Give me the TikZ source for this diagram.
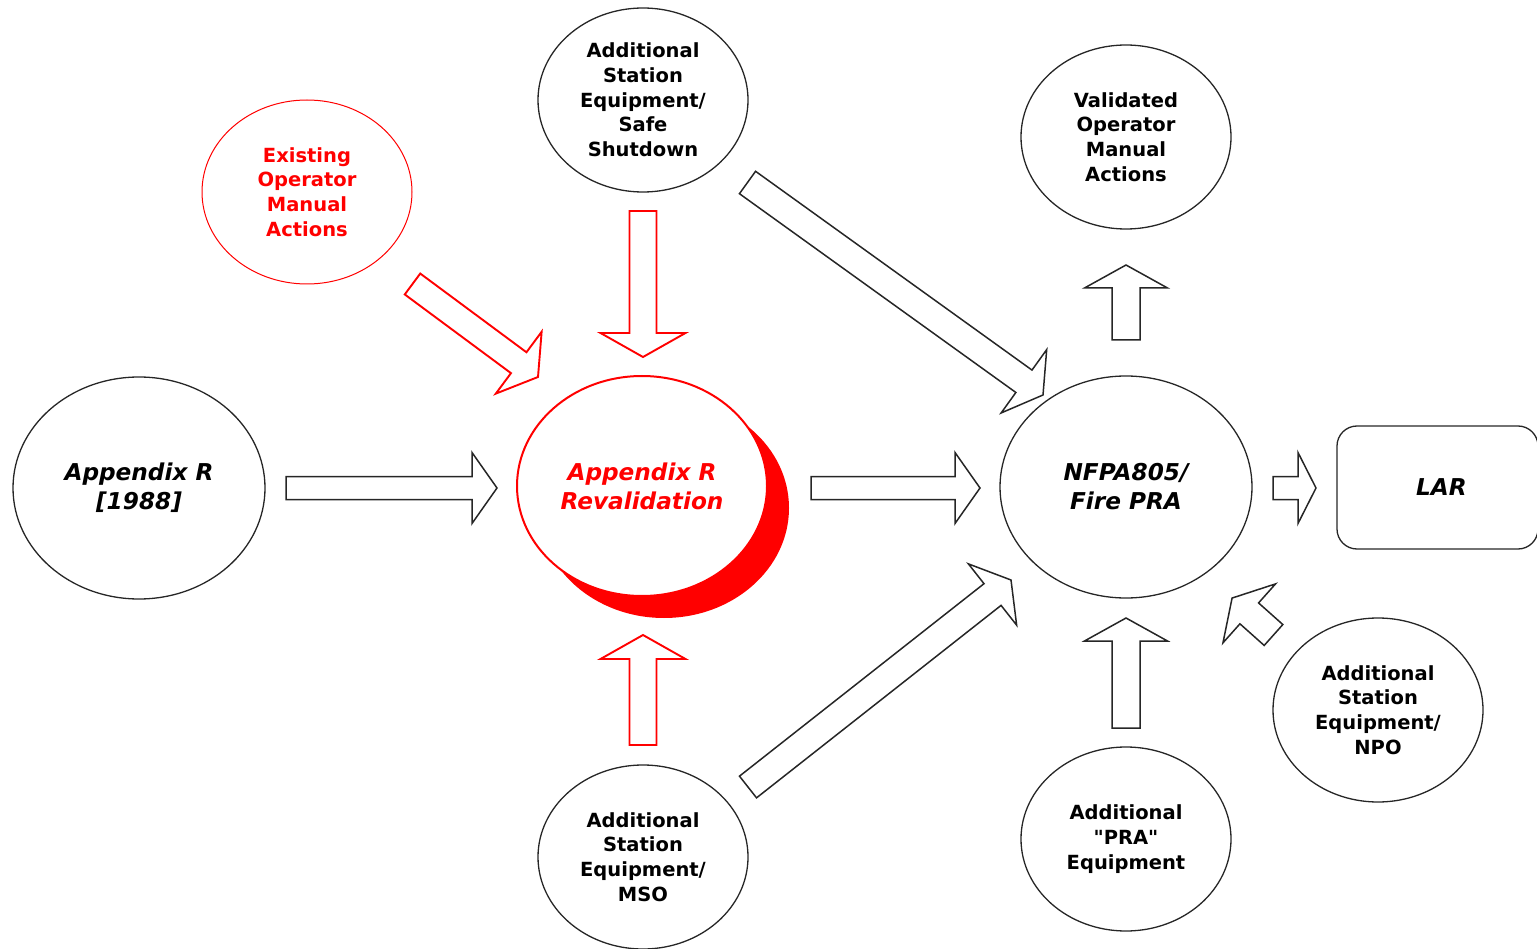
\documentclass[tikz,border=0pt]{standalone}
\usepackage{fontspec}
\setmainfont{DejaVu Sans}
\usetikzlibrary{shapes.geometric,calc,shadows}

% text sizes for the bubbles
\newcommand\smalltxt{\bfseries\fontsize{19.5pt}{24.7pt}\selectfont}
\newcommand\bigtxt{\bfseries\itshape\fontsize{23.2pt}{29pt}\selectfont}

% hollow block arrow from coordinate #2 (tail) to coordinate #3 (tip)
% #4 shaft half width, #5 head half width, #6 head length
\newcommand\blockarrow[6]{%
  \pgfpointdiff{\pgfpointanchor{#2}{center}}{\pgfpointanchor{#3}{center}}%
  \pgfgetlastxy\bax\bay
  \pgfmathsetmacro\baang{atan2(\bay,\bax)}%
  \pgfmathsetmacro\balen{veclen(\bax,\bay)}%
  \draw[#1, shift={(#2)}, rotate=\baang]
    (0,{-#4}) -- ({\balen-#6},{-#4}) -- ({\balen-#6},{-#5}) -- (\balen,0)
    -- ({\balen-#6},#5) -- ({\balen-#6},#4) -- (0,#4) -- cycle;
}

\begin{document}
\begin{tikzpicture}[x=1pt,y=-1pt,
  bubble/.style={ellipse, draw=black!85, line width=1.3pt, inner sep=0pt,
    align=center, font=\smalltxt, minimum width=210pt, minimum height=184pt},
  bigbubble/.style={bubble, font=\bigtxt, minimum width=252pt, minimum height=222pt},
  redbubble/.style={draw=red, text=red, line width=1pt},
  hollow/.style={draw=black!85, line width=1.5pt, line join=miter},
  redhollow/.style={draw=red, line width=1.9pt, line join=miter}
]
\useasboundingbox (0,0) rectangle (1537,949);

% bubbles
\node[bubble] (safe) at (643,100) {Additional\\Station\\Equipment/\\Safe\\Shutdown};
\node[bubble, redbubble] (exist) at (307,192) {Existing\\Operator\\Manual\\Actions};
\node[bubble] (valid) at (1126,137) {Validated\\Operator\\Manual\\Actions};
\node[bigbubble] (appr) at (139,488) {Appendix R\\{[1988]}};
\node[bigbubble, draw=red, text=red, line width=2pt, fill=white,
  minimum width=250pt, minimum height=220pt,
  drop shadow={shadow xshift=22pt, shadow yshift=-22pt, fill=red, opacity=1}]
  (reval) at (642,486) {Appendix R\\Revalidation};
\node[bigbubble] (nfpa) at (1126,487) {NFPA805/\\Fire PRA};
\node[draw=black!85, line width=1.3pt, rounded corners=20pt, minimum width=201pt,
  minimum height=123pt, inner sep=0pt, font=\bigtxt] (lar) at (1437.5,487.5) {\hspace*{8pt}LAR};
\node[bubble] (mso) at (643,857) {Additional\\Station\\Equipment/\\MSO};
\node[bubble] (pra) at (1126,839) {Additional\\\textquotedbl PRA\textquotedbl\\Equipment};
\node[bubble] (npo) at (1378,710) {Additional\\Station\\Equipment/\\NPO};

% arrow ends
\coordinate (apprT) at (286,488);   \coordinate (apprH) at (497,488);
\coordinate (revalT) at (811,488);  \coordinate (revalH) at (980,488);
\coordinate (nfpaT) at (1273,488);  \coordinate (nfpaH) at (1316,488);
\coordinate (safeT) at (643,211);   \coordinate (safeH) at (643,357);
\coordinate (msoT) at (643,745);    \coordinate (msoH) at (643,635);
\coordinate (validT) at (1126,340); \coordinate (validH) at (1126,265);
\coordinate (praT) at (1126,728);   \coordinate (praH) at (1126,618);
\coordinate (existT) at (412.5,284);\coordinate (existH) at (538,377);
\coordinate (safeNT) at (747.5,182.5); \coordinate (safeNH) at (1043,395);
\coordinate (msoNT) at (748,787);   \coordinate (msoNH) at (1011,580);
\coordinate (npoT) at (1273.5,635); \coordinate (npoH) at (1232,598);

% block arrows
\blockarrow{hollow}{apprT}{apprH}{11.5}{35.5}{25}
\blockarrow{hollow}{revalT}{revalH}{11.5}{35.5}{25}
\blockarrow{hollow}{nfpaT}{nfpaH}{11.5}{35.5}{18}
\blockarrow{redhollow}{safeT}{safeH}{13.5}{42.5}{24}
\blockarrow{redhollow}{msoT}{msoH}{13.5}{42.5}{24}
\blockarrow{hollow}{validT}{validH}{14}{41.5}{23}
\blockarrow{hollow}{praT}{praH}{14}{41.5}{23}
\blockarrow{redhollow}{existT}{existH}{13}{38.5}{24}
\blockarrow{hollow}{safeNT}{safeNH}{13.8}{39}{23.5}
\blockarrow{hollow}{msoNT}{msoNH}{13.8}{39}{23.5}
\blockarrow{hollow}{npoT}{npoH}{14}{39.5}{23}
\end{tikzpicture}
\end{document}
